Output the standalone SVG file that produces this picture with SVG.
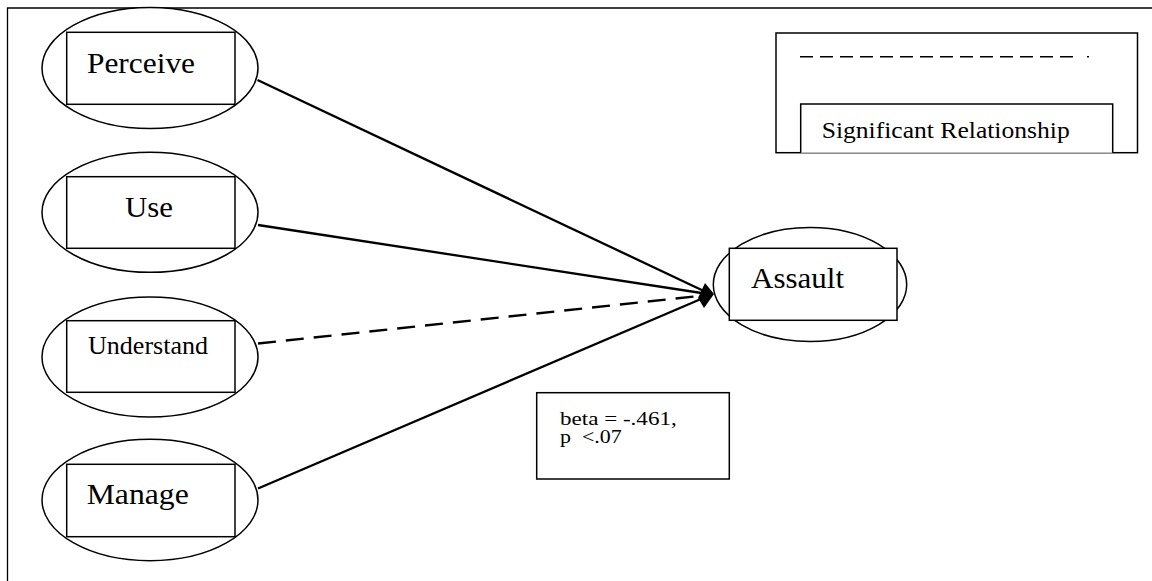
<svg xmlns="http://www.w3.org/2000/svg" width="1152" height="581" viewBox="0 0 1152 581">
  <style>
    .frame { fill: none; stroke: #000; stroke-width: 1.3; }
    .oval { fill: #fff; stroke: #000; stroke-width: 1.5; }
    .box { fill: #fff; stroke: #000; stroke-width: 1.5; }
    .lbl { font-family: "Liberation Serif", "Times New Roman", serif; fill: #000; }
    .edge { fill: none; stroke: #000; stroke-width: 2.3; }
    .dashed { stroke-dasharray: 18 10; }
  </style>
  <rect width="1152" height="581" fill="#fff"/>

  <!-- page frame (top and left edges) -->
  <path class="frame" d="M7.5 581 V8 H1152"/>

  <!-- connectors -->
  <g id="connectors">
    <line class="edge" x1="257.5" y1="80" x2="708" y2="293"/>
    <line class="edge" x1="258" y1="225" x2="708" y2="294"/>
    <line class="edge dashed" x1="258" y1="343.5" x2="708" y2="295"/>
    <line class="edge" x1="258" y1="488.5" x2="708" y2="296"/>
    <polygon points="714,294 705,283 698,298 704,308" fill="#000"/>
  </g>

  <g id="perceive">
    <ellipse class="oval" cx="150" cy="68" rx="108" ry="60.5"/>
    <rect class="box" x="66.7" y="32.3" width="168.3" height="72"/>
    <text class="lbl" x="87" y="73" font-size="30" textLength="108" lengthAdjust="spacingAndGlyphs">Perceive</text>
  </g>

  <g id="use">
    <ellipse class="oval" cx="150" cy="212.3" rx="108" ry="60"/>
    <rect class="box" x="66.7" y="176.7" width="168.3" height="71.6"/>
    <text class="lbl" x="125" y="216.7" font-size="30" textLength="48" lengthAdjust="spacingAndGlyphs">Use</text>
  </g>

  <g id="understand">
    <ellipse class="oval" cx="150" cy="357" rx="108" ry="60"/>
    <rect class="box" x="66.7" y="320.7" width="168.3" height="71.6"/>
    <text class="lbl" x="88" y="354.3" font-size="25" textLength="120" lengthAdjust="spacingAndGlyphs">Understand</text>
  </g>

  <g id="manage">
    <ellipse class="oval" cx="150" cy="500" rx="108" ry="60.7"/>
    <rect class="box" x="66.7" y="464.3" width="168.3" height="72.4"/>
    <text class="lbl" x="86.7" y="504" font-size="30" textLength="102" lengthAdjust="spacingAndGlyphs">Manage</text>
  </g>

  <g id="assault">
    <ellipse class="oval" cx="810" cy="284.5" rx="96.7" ry="57"/>
    <rect class="box" x="729.3" y="248.3" width="167.7" height="72"/>
    <text class="lbl" x="751" y="288.3" font-size="30" textLength="93" lengthAdjust="spacingAndGlyphs">Assault</text>
  </g>

  <g id="coefficient">
    <rect class="box" x="536.7" y="392.7" width="192.6" height="86.3"/>
    <text class="lbl" x="560" y="425" font-size="18" textLength="116.7" lengthAdjust="spacingAndGlyphs">beta = -.461,</text>
    <text class="lbl" x="560" y="443.3" font-size="18" textLength="61.7" lengthAdjust="spacingAndGlyphs" xml:space="preserve">p  &lt;.07</text>
  </g>

  <g id="legend">
    <rect class="box" x="776" y="33" width="361.5" height="119.7"/>
    <line x1="800" y1="56.7" x2="1080" y2="56.7" stroke="#000" stroke-width="1.5" stroke-dasharray="13 7"/>
    <line x1="1087" y1="56.7" x2="1089" y2="56.7" stroke="#000" stroke-width="1.5"/>
    <path class="box" d="M800.7 152.7 V104 H1112.7 V152.7"/>
    <text class="lbl" x="821.7" y="138.3" font-size="23" textLength="248" lengthAdjust="spacingAndGlyphs">Significant Relationship</text>
  </g>
</svg>
